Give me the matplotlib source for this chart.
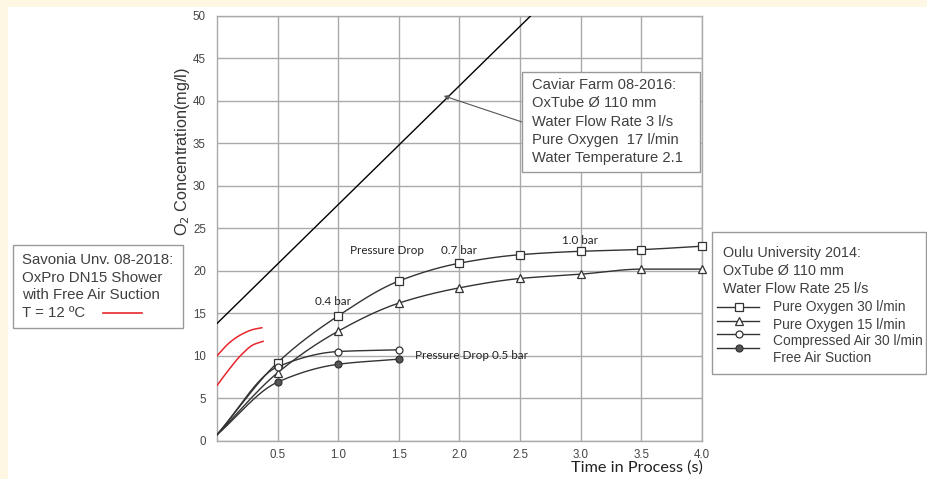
import numpy as np
import matplotlib
matplotlib.use("Agg")
import matplotlib.pyplot as plt
from matplotlib.patches import Rectangle
from matplotlib.lines import Line2D

# ---------------- data ----------------
time_s = [0.0, 0.5, 1.0, 1.5, 2.0, 2.5, 3.0, 3.5, 4.0]
pure_o2_30 = [0.7, 9.2, 14.7, 18.8, 20.9, 21.9, 22.3, 22.5, 22.9]
pure_o2_15 = [0.7, 8.0, 12.9, 16.2, 18.0, 19.1, 19.6, 20.2, 20.2]
time_short = [0.0, 0.5, 1.0, 1.5]
comp_air_30 = [0.7, 8.7, 10.5, 10.7]
free_air = [0.7, 6.9, 9.0, 9.6]

caviar_x = [0.0, 2.6]
caviar_y = [13.8, 50.2]

savonia_x1 = [0.0, 0.1, 0.2, 0.3, 0.37]
savonia_y1 = [10.0, 11.5, 12.5, 13.1, 13.3]
savonia_x2 = [0.0, 0.1, 0.2, 0.3, 0.38]
savonia_y2 = [6.5, 8.4, 10.1, 11.3, 11.7]

x_ticks = [0.5, 1.0, 1.5, 2.0, 2.5, 3.0, 3.5, 4.0]
y_ticks = [0, 5, 10, 15, 20, 25, 30, 35, 40, 45, 50]

W, H = 928, 479


def pchip(x, y, xs):
    x = np.asarray(x, float); y = np.asarray(y, float)
    h = np.diff(x); d = np.diff(y) / h
    n = len(x)
    m = np.zeros(n)
    for k in range(1, n - 1):
        if d[k - 1] * d[k] > 0:
            w1 = 2 * h[k] + h[k - 1]; w2 = h[k] + 2 * h[k - 1]
            m[k] = (w1 + w2) / (w1 / d[k - 1] + w2 / d[k])
    m[0] = d[0]; m[-1] = d[-1]
    ys = np.empty_like(xs)
    idx = np.clip(np.searchsorted(x, xs) - 1, 0, n - 2)
    for j, xv in enumerate(xs):
        k = idx[j]; t = (xv - x[k]) / h[k]
        h00 = 2*t**3 - 3*t**2 + 1; h10 = t**3 - 2*t**2 + t
        h01 = -2*t**3 + 3*t**2; h11 = t**3 - t**2
        ys[j] = h00*y[k] + h10*h[k]*m[k] + h01*y[k+1] + h11*h[k]*m[k+1]
    return ys


def fx(px):
    return px / W


def fy(py):
    return 1 - py / H


fig = plt.figure(figsize=(W / 100, H / 100), dpi=100)
fig.patch.set_facecolor("#fdf7e4")
fig.patches.append(Rectangle((fx(8), 0), 1, fy(7), transform=fig.transFigure,
                             facecolor="white", edgecolor="none", zorder=-10))

ax = fig.add_axes([fx(217), fy(440.7), (702 - 217) / W, (440.7 - 16) / H])
ax.set_zorder(1)
ax.set_xlim(0, 4)
ax.set_ylim(0, 50)
ax.set_xticks(x_ticks)
ax.set_yticks(y_ticks)
ax.set_xticklabels([f"{v:.1f}" for v in x_ticks])
ax.tick_params(length=0, labelsize=8.3, labelcolor="#444444")
ax.tick_params(axis="x", pad=6)
ax.tick_params(axis="y", pad=8)
for lab in ax.get_xticklabels() + ax.get_yticklabels():
    lab.set_family("Liberation Sans")
ax.grid(True, color="#aaaaaa", lw=1.0)
ax.set_axisbelow(True)
for s in ax.spines.values():
    s.set_color("#aaaaaa")
    s.set_linewidth(1.0)

lc = "#333333"
series = [
    (time_s, pure_o2_30, "s", "white", 6.0),
    (time_s, pure_o2_15, "^", "white", 6.0),
    (time_short, comp_air_30, "o", "white", 5.0),
    (time_short, free_air, "o", "#555555", 5.0),
]
for xs_, ys_, mk, fc, ms in series:
    xx = np.linspace(xs_[0], xs_[-1], 300)
    ax.plot(xx, pchip(xs_, ys_, xx), color=lc, lw=1.0, zorder=3)
    ax.plot(xs_[1:], ys_[1:], ls="none", marker=mk, mfc=fc, mec=lc, ms=ms, mew=0.9,
            zorder=4, clip_on=False)

# Caviar farm line
ax.plot(caviar_x, caviar_y, color="black", lw=1.0, zorder=3)

# Savonia red curves
for sx, sy in [(savonia_x1, savonia_y1), (savonia_x2, savonia_y2)]:
    xx = np.linspace(sx[0], sx[-1], 100)
    ax.plot(xx, pchip(sx, sy, xx), color="#e8262b", lw=1.1, zorder=3)

# in-axes annotations
afont = dict(family=["Lato", "DejaVu Sans"], fontsize=8.4, color="#222222", va="center", zorder=5)
ax.text(1.10, 22.4, "Pressure Drop", **afont)
ax.text(1.845, 22.4, "0.7 bar", **afont)
ax.text(2.843, 23.6, "1.0 bar", **afont)
ax.text(0.808, 16.4, "0.4 bar", **afont)
ax.text(1.633, 10.0, "Pressure Drop 0.5 bar", **afont)

# arrow from caviar box to line
ax.annotate("", xy=(1.87, 40.6), xytext=(2.52, 37.5),
            arrowprops=dict(arrowstyle="-|>", color="#555555", lw=0.8,
                            mutation_scale=7, shrinkA=0, shrinkB=0), zorder=6)

# axis labels
fig.text(fx(703), fy(468), "Time in Process (s)", ha="right", va="center",
         fontsize=11.7, family=["Lato", "DejaVu Sans"], color="#222222")
fig.text(fx(183), fy(152), "O$_2$ Concentration(mg/l)", rotation=90, ha="center",
         va="center", fontsize=11.7, family=["Liberation Sans", "DejaVu Sans"], color="#333333")

tcol = "#404040"
bfont = dict(family=["Liberation Sans", "DejaVu Sans"], color=tcol, va="center", ha="left")


def box(x0, y0, x1, y1):
    fig.patches.append(Rectangle((fx(x0), fy(y1)), (x1 - x0) / W, (y1 - y0) / H,
                                 transform=fig.transFigure, facecolor="white",
                                 edgecolor="#999999", lw=1.0, zorder=5))


# Caviar box
box(522, 72, 700, 172)
cav_lines = ["Caviar Farm 08-2016:", "OxTube \u00d8 110 mm", "Water Flow Rate 3 l/s",
             "Pure Oxygen  17 l/min", "Water Temperature 2.1"]
for i, t in enumerate(cav_lines):
    fig.text(fx(532), fy(85 + i * 18.3), t, fontsize=10.6, zorder=6, **bfont)

# Savonia box
box(13, 245, 183, 328)
sav_lines = ["Savonia Unv. 08-2018:", "OxPro DN15 Shower", "with Free Air Suction", "T = 12 \u00baC"]
for i, t in enumerate(sav_lines):
    fig.text(fx(22), fy(260 + i * 17.7), t, fontsize=10.8, zorder=6, **bfont)
fig.lines.append(Line2D([fx(103), fx(142)], [fy(313), fy(313)], transform=fig.transFigure,
                        color="#e8262b", lw=1.2, zorder=7))

# Oulu box
box(712, 232, 926, 374)
oulu_head = ["Oulu University 2014:", "OxTube \u00d8 110 mm", "Water Flow Rate 25 l/s"]
for i, t in enumerate(oulu_head):
    fig.text(fx(723), fy(253.3 + i * 17.8), t, fontsize=10.4, zorder=6, **bfont)
leg_labels = ["Pure Oxygen 30 l/min", "Pure Oxygen 15 l/min", "Compressed Air 30 l/min", "Free Air Suction"]
text_rows = [307.3, 324.5, 341.5, 357.5]
sample_rows = [307.3, 320.5, 334.3, 348.3]
for (xs_, ys_, mk, fc, ms), lab, tr, sr in zip(series, leg_labels, text_rows, sample_rows):
    fig.text(fx(773), fy(tr), lab, fontsize=9.9, zorder=6, **bfont)
    fig.lines.append(Line2D([fx(717), fx(759)], [fy(sr), fy(sr)], transform=fig.transFigure,
                            color=lc, lw=1.0, zorder=7))
    fig.lines.append(Line2D([fx(739)], [fy(sr)], transform=fig.transFigure, ls="none",
                            marker=mk, mfc=fc, mec=lc, ms=ms, mew=0.9, zorder=8))

fig.savefig("out.png", dpi=100, facecolor=fig.get_facecolor())
